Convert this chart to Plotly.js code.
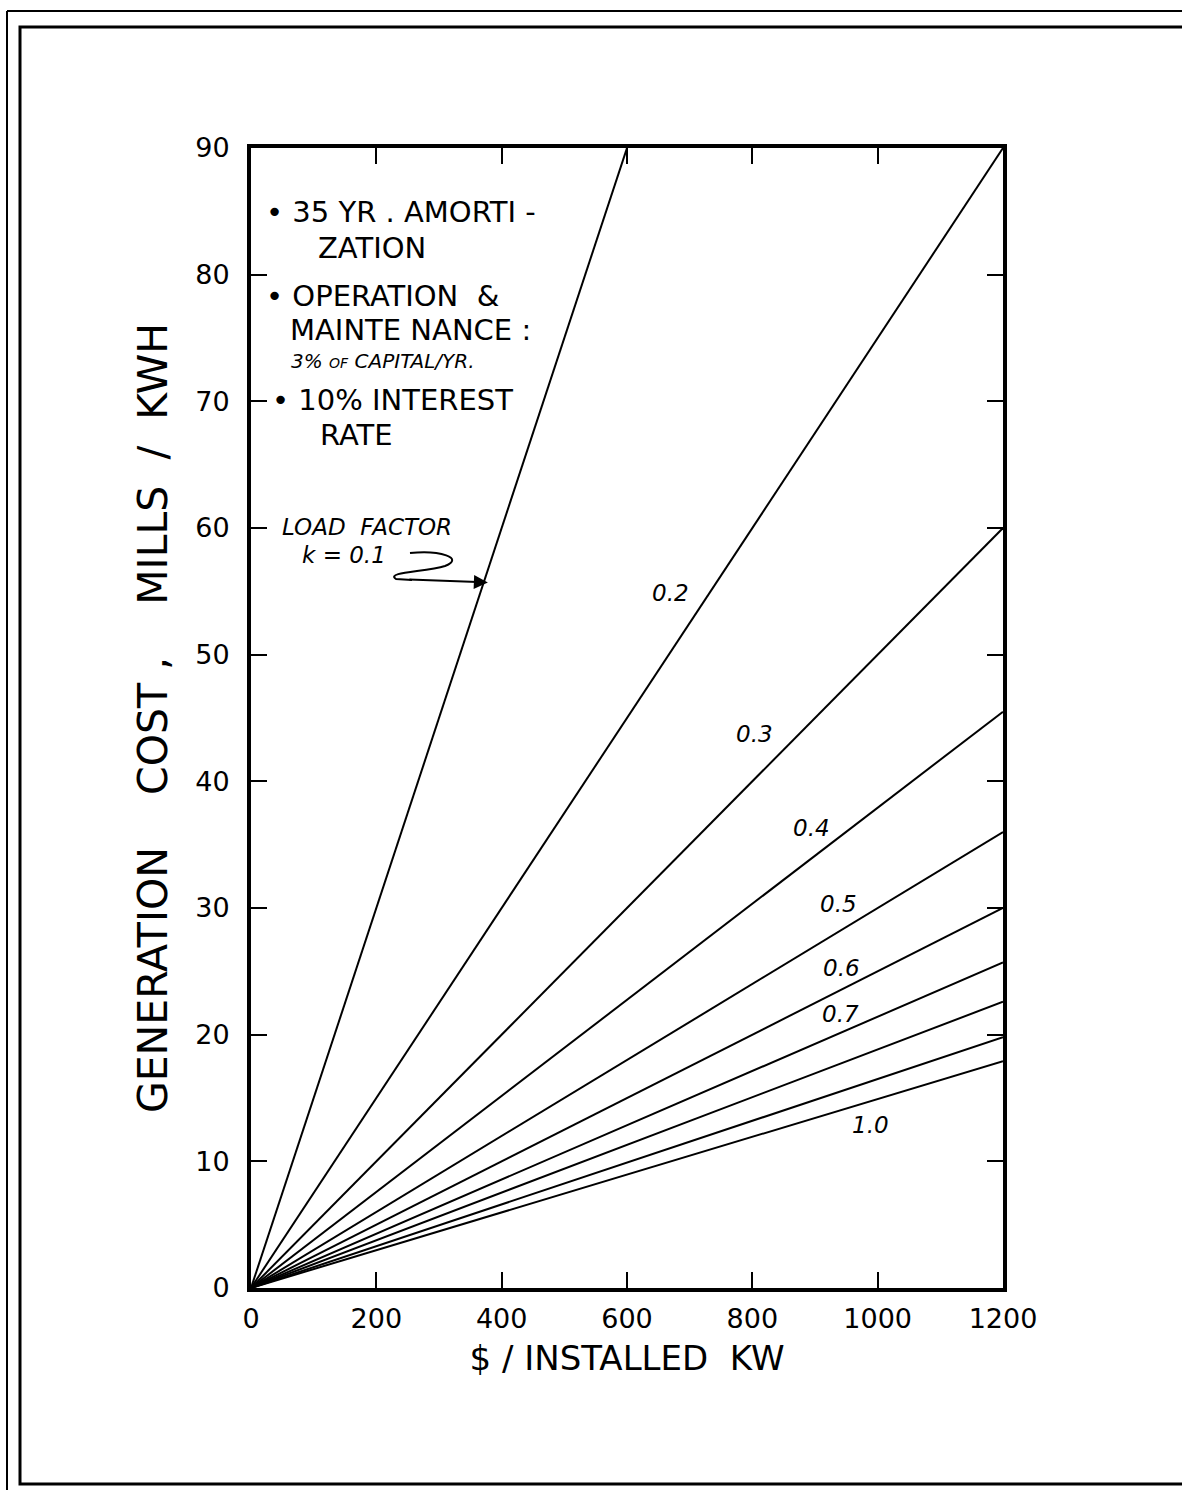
<!DOCTYPE html>
<html>
<head>
<meta charset="utf-8">
<script src="https://cdn.plot.ly/plotly-3.0.1.min.js"></script>
<style>
  html, body { margin: 0; padding: 0; background: #fff; }
  #chart { width: 1182px; height: 1493px; }
</style>
</head>
<body>
<div id="chart"></div>
<script>
// ---- data ----
const installedCost = [0, 1200];                       // $/installed kW
const loadFactors   = [0.1, 0.2, 0.3, 0.4, 0.5, 0.6, 0.7, 0.8, 0.9, 1.0];
const costAt1200    = [180, 90, 60, 45.5, 36, 30, 25.7, 22.6, 19.8, 17.9]; // mills/kWh at 1200 $/kW
const lineLabels    = ["0.2", "0.3", "0.4", "0.5", "0.6", "0.7", "1.0"];
const xTickVals     = [0, 200, 400, 600, 800, 1000, 1200];
const yTickVals     = [0, 10, 20, 30, 40, 50, 60, 70, 80, 90];

// ---- layout geometry ----
const W = 1182, H = 1493;
const L = 251, R = 179, T = 148, B = 205;
const PW = W - L - R, PH = H - T - B;
const px = v => (v - L) / PW;           // pixel x -> paper x
const py = v => (H - B - v) / PH;       // pixel y -> paper y

const FONT = "DejaVu Sans, sans-serif";

const traces = loadFactors.map((k, i) => ({
  type: "scatter",
  mode: "lines",
  x: installedCost,
  y: [0, costAt1200[i]],
  name: "k = " + k,
  line: { color: "#000", width: 2 },
  showlegend: false,
  hoverinfo: "x+y+name"
}));

// label positions for the line labels (data coords)
const labelPos = [
  [670, 54.9], [804, 43.7], [895, 36.3], [938, 30.3],
  [943, 25.3], [941, 21.6], [989, 12.9]
];

const annotations = lineLabels.map((t, i) => ({
  x: labelPos[i][0], y: labelPos[i][1], xref: "x", yref: "y",
  text: "<i>" + t + "</i>", showarrow: false,
  font: { family: FONT, size: 23, color: "#000" }
}));

function note(text, xp, yp, size, italic) {
  return {
    xref: "paper", yref: "paper", x: px(xp), y: py(yp),
    xanchor: "left", yanchor: "middle",
    text: italic ? "<i>" + text + "</i>" : text,
    showarrow: false,
    font: { family: FONT, size: size, color: "#000" }
  };
}
annotations.push(
  note("• 35 YR . AMORTI -", 264, 212, 29),
  note("ZATION", 316, 248, 29),
  note("• OPERATION  &amp;", 264, 296, 29),
  note("MAINTE NANCE :", 288, 330, 29),
  note("3% <span style='font-size:14px'>OF</span> CAPITAL/YR.", 289, 361, 20, true),
  note("• 10% INTEREST", 270, 400, 29),
  note("RATE", 318, 435, 29),
  note("LOAD  FACTOR", 280, 527, 23, true),
  note("k = 0.1", 300, 555, 23, true)
);
// arrow pointing at the k = 0.1 line
annotations.push({
  x: 378, y: 55.7, xref: "x", yref: "y",
  ax: -80, ay: -3, text: "", showarrow: true,
  arrowhead: 2, arrowsize: 1.4, arrowwidth: 2, arrowcolor: "#000"
});

// squiggle leading to the arrow (decorative, paper coords)
const sq = `M ${px(410)} ${py(553)} C ${px(440)} ${py(550)}, ${px(465)} ${py(558)}, ${px(445)} ${py(566)} ` +
           `C ${px(425)} ${py(572)}, ${px(385)} ${py(572)}, ${px(396)} ${py(579)} ` +
           `L ${px(412)} ${py(580)}`;

const shapes = [
  { type: "path", xref: "paper", yref: "paper", path: sq, line: { color: "#000", width: 2 } },
  // inner frame
  { type: "rect", xref: "paper", yref: "paper", x0: px(20), x1: px(1190), y0: py(1484), y1: py(27),
    line: { color: "#000", width: 3 }, layer: "below" },
  // outer frame lines
  { type: "line", xref: "paper", yref: "paper", x0: px(7), x1: px(1190), y0: py(11), y1: py(11),
    line: { color: "#000", width: 2 } },
  { type: "line", xref: "paper", yref: "paper", x0: px(7), x1: px(7), y0: py(11), y1: py(1490),
    line: { color: "#000", width: 2 } }
];

const axisCommon = {
  showgrid: false, zeroline: false,
  showline: true, linecolor: "#000", linewidth: 4, mirror: "ticks",
  ticks: "inside", ticklen: 16, tickwidth: 2, tickcolor: "#000",
  tickfont: { family: FONT, size: 27, color: "#000" }
};

const layout = {
  width: W, height: H,
  margin: { l: L, r: R, t: T, b: B, pad: 0 },
  paper_bgcolor: "#fff", plot_bgcolor: "#fff",
  xaxis: Object.assign({}, axisCommon, {
    range: [0, 1200], tickvals: xTickVals, ticklabelstandoff: 4,
    title: { text: "$ / INSTALLED  KW", font: { family: FONT, size: 34, color: "#000" }, standoff: 14 }
  }),
  yaxis: Object.assign({}, axisCommon, {
    range: [0, 90], tickvals: yTickVals, ticklabelstandoff: 12,
    title: { text: "GENERATION    COST ,    MILLS  /  KWH", font: { family: FONT, size: 41, color: "#000" }, standoff: 16 }
  }),
  annotations: annotations,
  shapes: shapes,
  showlegend: false
};

Plotly.newPlot("chart", traces, layout, { displayModeBar: false, staticPlot: true });
</script>
</body>
</html>
